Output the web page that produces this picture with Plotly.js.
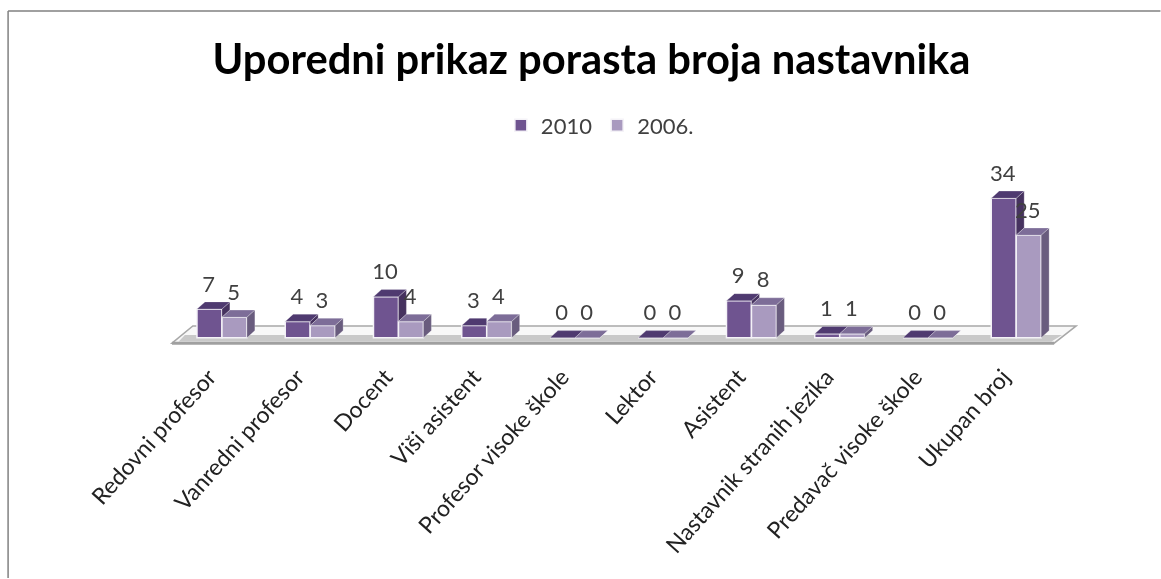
<!DOCTYPE html>
<html><head><meta charset="utf-8">
<script src="https://cdn.plot.ly/plotly-3.0.1.min.js"></script>
<style>html,body{margin:0;padding:0;background:#fff;overflow:hidden}#c{width:1161px;height:579px;filter:blur(0.55px)}</style>
</head><body><div id="c"></div>
<script>
const categories = ["Redovni profesor","Vanredni profesor","Docent","Viši asistent","Profesor visoke škole","Lektor","Asistent","Nastavnik stranih jezika","Predavač visoke škole","Ukupan broj"];
const values2010 = [7,4,10,3,0,0,9,1,0,34];
const values2006 = [5,3,4,4,0,0,8,1,0,25];
const name2010 = "2010", name2006 = "2006.";
const titleText = "Uporedni prikaz porasta broja nastavnika";

const col = {front10:"#6f5490",top10:"#4f3a70",side10:"#46325f",front06:"#a99abf",top06:"#7d6d98",side06:"#695c7e"};
const W = 0.283, DX = 0.09, DY = 1.75, LBL = 5.6;
const idx = categories.map((_,i)=>i);

function poly(pts, color){
  return {type:"scatter",mode:"lines",x:pts.map(p=>p[0]).concat(pts[0][0]),y:pts.map(p=>p[1]).concat(pts[0][1]),
    fill:"toself",fillcolor:color,line:{width:0.7,color:"rgba(255,255,255,0.35)"},hoverinfo:"skip",showlegend:false};
}
const faces = [];
idx.forEach(i=>{
  const v=values2010[i], w=values2006[i];
  const xl=i-W, xm=i, xr=i+W;
  if(v>w) faces.push(poly([[xm,v],[xm+DX,v+DY],[xm+DX,w+DY],[xm,w]],col.side10));
  const topRight = w>v ? xm : xm+DX;
  faces.push(poly([[xl,v],[xm,v],[topRight,v+DY],[xl+DX,v+DY]],col.top10));
  faces.push(poly([[xm,w],[xr,w],[xr+DX,w+DY],[xm+DX,w+DY]],col.top06));
  faces.push(poly([[xr,0],[xr+DX,DY],[xr+DX,w+DY],[xr,w]],col.side06));
});

const bars = [
  {type:"bar",name:name2010,x:idx,y:values2010,marker:{color:col.front10,line:{color:"#f4f2f7",width:1.5}},hoverinfo:"x+y"},
  {type:"bar",name:name2006,x:idx,y:values2006,marker:{color:col.front06,line:{color:"#f4f2f7",width:1.5}},hoverinfo:"x+y"}
];
const labels = [
  {type:"scatter",mode:"text",x:idx.map(i=>i-W/2-0.01),y:values2010.map(v=>v+LBL),text:values2010.map(String),textposition:"middle center",
   textfont:{family:"Lato",size:22,color:"#404040"},showlegend:false,hoverinfo:"skip"},
  {type:"scatter",mode:"text",x:idx.map(i=>i+W/2-0.01),y:values2006.map(v=>v+LBL),text:values2006.map(String),textposition:"middle center",
   textfont:{family:"Lato",size:22,color:"#404040"},showlegend:false,hoverinfo:"skip"}
];

// plot box in pixels, used only to place the picture frame
const L=169, R=82.5, T=148.5, B=232.8, PW=1161-L-R, PH=579-T-B;
const px = p => (p-L)/PW, py = p => (579-B-p)/PH;
const shapes = [
  {type:"path",layer:"below",xref:"x",yref:"y",path:"M -0.566 -1.3 L -0.33 2.9 L 9.68 2.9 L 9.43 -1.3 Z",fillcolor:"#f8f8f8",line:{color:"#a8a8a8",width:1.5}},
  {type:"path",layer:"below",xref:"x",yref:"y",path:"M -0.49 -0.9 L -0.42 0.7 L 9.52 0.7 L 9.4 -0.9 Z",fillcolor:"#c9c9c9",line:{width:0}},
  {type:"line",layer:"below",xref:"x",yref:"y",x0:-0.566,x1:9.43,y0:-1.35,y1:-1.35,line:{color:"#a0a0a0",width:3}},
  {type:"line",layer:"below",xref:"paper",yref:"paper",x0:px(8),x1:px(1161),y0:py(10),y1:py(10),line:{color:"#808080",width:1.5}},
  {type:"line",layer:"below",xref:"paper",yref:"paper",x0:px(8),x1:px(8),y0:py(579),y1:py(10),line:{color:"#808080",width:1.5}}
];

const layout = {
  width:1161,height:579,paper_bgcolor:"#fff",plot_bgcolor:"rgba(0,0,0,0)",
  margin:{l:L,r:R,t:T,b:B,autoexpand:false},
  barmode:"group",bargap:0.434,bargroupgap:0,
  title:{text:"<b>"+titleText+"</b>",font:{family:"Lato",size:41.7,color:"#000"},x:0.5095,xanchor:"center",y:0.897,yanchor:"middle"},
  xaxis:{type:"linear",range:[-0.6,9.7],tickvals:idx,ticktext:categories,tickangle:-48,ticks:"",ticklen:0,showgrid:false,zeroline:false,showline:false,
         tickfont:{family:"Lato",size:23,color:"#222"},ticklabelstandoff:12,ticklabelshift:-13,automargin:false},
  yaxis:{range:[-2,46],visible:false,fixedrange:true},
  legend:{orientation:"h",x:0.474,xanchor:"center",y:1.12,yanchor:"middle",font:{family:"Lato",size:22,color:"#404040"},traceorder:"normal",itemclick:false,itemdoubleclick:false},
  showlegend:true,shapes:shapes
};
Plotly.newPlot("c",[...bars,...faces,...labels],layout,{displayModeBar:false,responsive:false});
</script></body></html>
